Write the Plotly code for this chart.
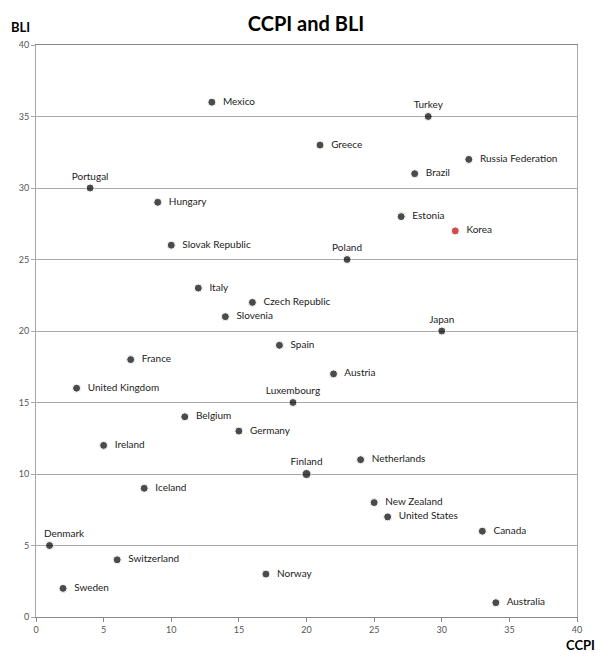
import plotly.graph_objects as go

countries = ["Mexico", "Turkey", "Greece", "Russia Federation", "Brazil", "Portugal", "Hungary",
             "Estonia", "Korea", "Slovak Republic", "Poland", "Italy", "Czech Republic", "Slovenia",
             "Japan", "Spain", "France", "Austria", "United Kingdom", "Luxembourg", "Belgium",
             "Germany", "Ireland", "Finland", "Netherlands", "Iceland", "New Zealand",
             "United States", "Canada", "Denmark", "Switzerland", "Norway", "Sweden", "Australia"]
ccpi = [13, 29, 21, 32, 28, 4, 9, 27, 31, 10, 23, 12, 16, 14, 30, 18, 7, 22, 3, 19, 11, 15, 5, 20,
        24, 8, 25, 26, 33, 1, 6, 17, 2, 34]
bli = [36, 35, 33, 32, 31, 30, 29, 28, 27, 26, 25, 23, 22, 21, 20, 19, 18, 17, 16, 15, 14, 13, 12,
       10, 11, 9, 8, 7, 6, 5, 4, 3, 2, 1]
top_labels = ["Turkey", "Portugal", "Poland", "Japan", "Luxembourg", "Finland", "Denmark"]
highlight = "Korea"
ticks = [0, 5, 10, 15, 20, 25, 30, 35, 40]

FONT = "Lato"
positions = ["top center" if c in top_labels else "middle right" for c in countries]
colors = ["#c00000" if c == highlight else "black" for c in countries]
sizes = [9 if c == "Finland" else 8 for c in countries]
labels = []
for c, p in zip(countries, positions):
    if p == "middle right":
        labels.append("  " + c)
    elif c == "Denmark":
        labels.append("\u2007\u2007\u2007\u2007\u2007" + c)
    else:
        labels.append(c)

fig = go.Figure()
fig.add_trace(go.Scatter(
    x=ccpi, y=bli, mode="markers+text", text=labels, textposition=positions,
    marker=dict(color=colors, size=sizes),
    textfont=dict(family=FONT, size=10, color="#222222"),
    cliponaxis=False, showlegend=False, hoverinfo="text"))

fig.update_layout(
    width=602, height=652,
    margin=dict(l=28, r=33, t=37, b=43),
    paper_bgcolor="white", plot_bgcolor="white",
    title=dict(text="<b>CCPI and BLI</b>", x=0.495, xanchor="center", y=0.975, yanchor="middle",
               font=dict(family=FONT, size=20, color="black")),
    xaxis=dict(range=[0, 40], tickvals=ticks, showgrid=False, zeroline=False,
               showline=True, linecolor="#888888", linewidth=1, mirror=True,
               ticks="outside", ticklen=4, tickcolor="#888888",
               tickfont=dict(family=FONT, size=9, color="#555555")),
    yaxis=dict(range=[0, 40], tickvals=ticks, showgrid=True, gridcolor="#a8a8a8", gridwidth=1,
               zeroline=False, showline=True, linecolor="#a8a8a8", linewidth=1, mirror=True,
               ticks="outside", ticklen=4, tickcolor="#a8a8a8",
               tickfont=dict(family=FONT, size=9, color="#555555")),
    annotations=[
        dict(text="<b>BLI</b>", xref="paper", yref="paper", x=-0.028, y=1.031, xanchor="center",
             yanchor="middle", showarrow=False, font=dict(family=FONT, size=13, color="black")),
        dict(text="<b>CCPI</b>", xref="paper", yref="paper", x=1.006, y=-0.031, xanchor="center",
             yanchor="top", showarrow=False, font=dict(family=FONT, size=13, color="black")),
    ],
)
fig.write_html("out.html")
